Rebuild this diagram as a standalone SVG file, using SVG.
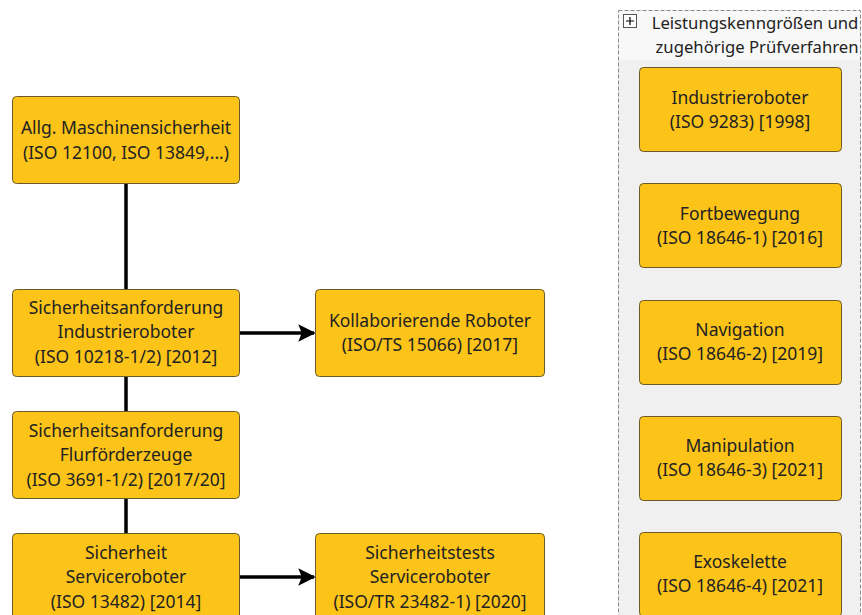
<svg xmlns="http://www.w3.org/2000/svg" width="862" height="615" viewBox="0 0 862 615">
<defs>
<style>
.n rect{fill:#fcc419;stroke:#6b5a2a;stroke-width:1}
.n text,.hd{font-family:"Noto Sans","Open Sans",sans-serif;font-size:17.5px;fill:#222;text-anchor:middle}
.hd{font-size:16.7px}
.e{stroke:#000;stroke-width:3.5;fill:none}
</style>
<marker id="ah" viewBox="0 0 10 10" refX="9" refY="5" markerWidth="5" markerHeight="5" orient="auto" markerUnits="strokeWidth">
<path d="M0,0 L10,5 L0,10 L2,5 z" fill="#000"/>
</marker>
</defs>
<rect width="862" height="615" fill="#fff"/>
<g id="container">
<rect x="618.5" y="10.5" width="242" height="620" fill="#f0f0f0" stroke="#888" stroke-dasharray="4,2"/>
<rect x="619" y="11" width="241" height="49" fill="#f8f8f8"/>
<rect x="623.5" y="14.5" width="13" height="13" fill="#fff" stroke="#555"/>
<path d="M626 21h8M630 17v8" stroke="#000" stroke-width="1.2"/>
<text class="hd" x="755" y="29">Leistungskenngrößen und</text>
<text class="hd" x="757" y="53">zugehörige Prüfverfahren</text>
</g>
<g id="connectors">
<path class="e" d="M126 184V289"/>
<path class="e" d="M126 377V411"/>
<path class="e" d="M126 499V533"/>
<path class="e" d="M240 333H314" marker-end="url(#ah)"/>
<path class="e" d="M240 577H314" marker-end="url(#ah)"/>
</g>
<g id="n1" class="n"><rect x="12.5" y="96.5" width="227" height="87" rx="4"/><text x="126" y="134">Allg. Maschinensicherheit</text><text x="126" y="159">(ISO 12100, ISO 13849,...)</text></g>
<g id="n2" class="n"><rect x="12.5" y="289.5" width="227" height="87" rx="4"/><text x="126" y="314">Sicherheitsanforderung</text><text x="126" y="338">Industrieroboter</text><text x="126" y="363">(ISO 10218-1/2) [2012]</text></g>
<g id="n3" class="n"><rect x="315.5" y="289.5" width="229" height="87" rx="4"/><text x="430" y="327">Kollaborierende Roboter</text><text x="430" y="351">(ISO/TS 15066) [2017]</text></g>
<g id="n4" class="n"><rect x="12.5" y="411.5" width="227" height="87" rx="4"/><text x="126" y="437">Sicherheitsanforderung</text><text x="126" y="461">Flurförderzeuge</text><text x="126" y="486">(ISO 3691-1/2) [2017/20]</text></g>
<g id="n5" class="n"><rect x="12.5" y="533.5" width="227" height="87" rx="4"/><text x="126" y="559">Sicherheit</text><text x="126" y="583">Serviceroboter</text><text x="126" y="608">(ISO 13482) [2014]</text></g>
<g id="n6" class="n"><rect x="315.5" y="533.5" width="229" height="87" rx="4"/><text x="430" y="559">Sicherheitstests</text><text x="430" y="583">Serviceroboter</text><text x="430" y="608">(ISO/TR 23482-1) [2020]</text></g>
<g id="r1" class="n"><rect x="639.5" y="67.5" width="202" height="84" rx="4"/><text x="740" y="104">Industrieroboter</text><text x="740" y="128">(ISO 9283) [1998]</text></g>
<g id="r2" class="n"><rect x="639.5" y="183.5" width="202" height="84" rx="4"/><text x="740" y="220">Fortbewegung</text><text x="740" y="244">(ISO 18646-1) [2016]</text></g>
<g id="r3" class="n"><rect x="639.5" y="300.5" width="202" height="84" rx="4"/><text x="740" y="336">Navigation</text><text x="740" y="360">(ISO 18646-2) [2019]</text></g>
<g id="r4" class="n"><rect x="639.5" y="416.5" width="202" height="84" rx="4"/><text x="740" y="452">Manipulation</text><text x="740" y="476">(ISO 18646-3) [2021]</text></g>
<g id="r5" class="n"><rect x="639.5" y="532.5" width="202" height="84" rx="4"/><text x="740" y="568">Exoskelette</text><text x="740" y="592">(ISO 18646-4) [2021]</text></g>
</svg>
